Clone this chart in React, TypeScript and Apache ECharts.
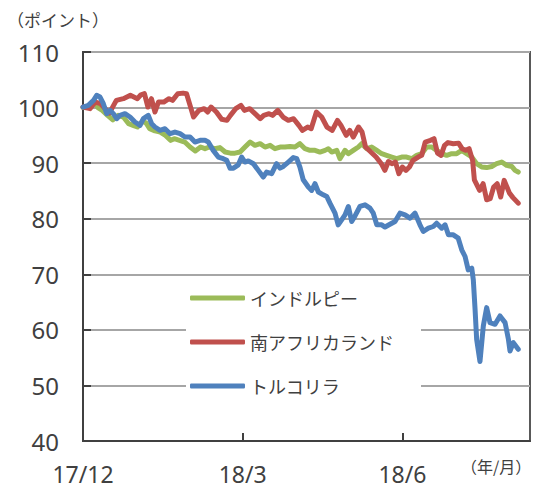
import React, { useEffect, useRef } from 'react';
import * as echarts from 'echarts';

// x = days since 2017-12-01
const xTickDays = [0, 91, 182];
const xTickLabels = ['17/12', '18/3', '18/6'];
const seriesNames = ['インドルピー', '南アフリカランド', 'トルコリラ'];
const seriesColors = ['#9BBB59', '#C0504D', '#4F81BD'];

const inr: [number, number][] = [
  [0, 100.0], [4, 100.2], [7, 101.0], [8.5, 100.0], [11, 99.5], [14, 98.6], [17, 97.8], [20, 98.6],
  [23, 98.3], [26, 97.1], [28.5, 96.8], [31, 96.5], [34, 97.6], [36, 97.2], [38, 96.2], [41, 95.8],
  [44, 95.6], [47, 95.0], [50, 94.1], [52, 94.4], [55, 94.1], [58, 93.8], [61, 92.9], [64, 92.2],
  [67, 92.9], [69.5, 92.6], [72, 92.9], [75, 92.6], [78, 92.8], [81, 92.0], [84, 91.8], [86.6, 91.8],
  [89.5, 92.0], [92.3, 92.9], [95.2, 93.8], [98, 93.2], [100.9, 93.5], [103.7, 92.9], [106.6, 93.2],
  [109.4, 92.6], [112.3, 92.9], [115.1, 92.9], [117.9, 93.0], [120.8, 92.9], [123.6, 93.5], [126.5, 92.6],
  [129.3, 92.3], [132.2, 92.3], [135, 92.0], [137.9, 92.3], [139.8, 92.6], [141.7, 92.0], [144.6, 92.3],
  [146.4, 90.8], [149.3, 92.3], [151.2, 91.7], [154, 92.3], [156.9, 92.9], [158.8, 93.5], [161.7, 92.6],
  [164.5, 92.9], [167.4, 92.3], [170.2, 91.7], [173, 91.4], [175.9, 91.1], [178.7, 90.8], [181.6, 91.1],
  [184.4, 91.1], [187.3, 90.8], [190.1, 91.4], [193, 91.7], [195.8, 92.9], [198.7, 92.9], [201.5, 92.3],
  [204.4, 91.7], [207.2, 91.4], [210.1, 91.7], [212.9, 91.7], [215.8, 92.3], [218.6, 91.7], [221.5, 91.1],
  [224.3, 89.9], [227.2, 89.3], [230, 89.2], [232.9, 89.4], [235.7, 89.9], [238.6, 90.2], [241.4, 89.6],
  [244.3, 89.4], [246.2, 88.7], [248, 88.4],
];

const zar: [number, number][] = [
  [0, 100.1], [4, 99.8], [7, 101.0], [10, 100.7], [15, 99.0], [19, 101.3], [23, 101.6], [27, 102.2],
  [31, 101.6], [33, 102.3], [35, 102.5], [37, 100.1], [39, 101.6], [41, 99.2], [43, 101.0], [46, 101.0],
  [49, 101.6], [51, 101.3], [54, 102.5], [57, 102.6], [59, 102.5], [61, 100.4], [63, 98.3], [66, 99.5],
  [69, 99.8], [71, 99.2], [73, 100.1], [76, 99.2], [79, 97.9], [82, 97.7], [84, 98.6], [87, 99.8],
  [90, 100.4], [92, 99.5], [95, 99.8], [98, 98.9], [101, 98.0], [103, 98.6], [106, 98.9], [108, 98.6],
  [111, 99.5], [114, 98.3], [117, 97.7], [120, 98.0], [123, 96.8], [125, 95.9], [128, 96.5], [130, 96.2],
  [133, 99.2], [136, 98.3], [139, 96.5], [142, 95.9], [145, 97.7], [147, 96.8], [150, 95.0], [152, 95.9],
  [154, 94.7], [157, 96.5], [159, 95.6], [161, 92.9], [164, 92.0], [167, 91.1], [170, 89.9], [172, 88.7],
  [174, 90.3], [176, 89.9], [178, 90.2], [180, 88.1], [182, 89.3], [184, 88.7], [186, 89.3], [188, 90.5],
  [191, 91.1], [193, 91.4], [195, 93.8], [198, 94.1], [200, 94.4], [202, 91.8], [204, 91.4], [206, 93.2],
  [208, 93.7], [211, 93.5], [214, 93.6], [216, 92.6], [218, 92.3], [220, 92.6], [222, 90.5], [223, 87.0],
  [226, 85.1], [228, 86.3], [230, 83.4], [232, 83.6], [234, 85.7], [236, 86.3], [238, 83.9], [240, 86.9],
  [243, 84.6], [245, 83.8], [248, 82.8],
];

const tryl: [number, number][] = [
  [0, 100.1], [3, 100.4], [6, 101.3], [7.8, 102.2], [9.7, 101.9], [11.6, 100.7], [13.5, 98.9], [15.4, 99.5],
  [17.3, 98.9], [19.2, 98.0], [21.1, 98.6], [23.9, 98.9], [26.8, 98.3], [29.6, 97.4], [32.5, 96.8],
  [34.4, 98.0], [37.2, 98.6], [39.1, 97.1], [41, 96.5], [43.9, 95.9], [46.7, 96.2], [49.6, 95.3],
  [52.4, 95.6], [55.3, 95.3], [58.1, 94.7], [61, 94.7], [63.8, 93.8], [66.7, 94.1], [69.5, 94.1],
  [71.4, 93.8], [74.2, 92.3], [77.1, 91.1], [79.9, 90.8], [81.9, 90.5], [83.8, 89.1], [85.7, 89.1],
  [88.5, 89.7], [90.4, 91.1], [92.3, 90.2], [94.2, 90.4], [97.1, 89.9], [99.9, 88.7], [102.7, 87.5],
  [104.6, 88.4], [107.5, 88.1], [110.3, 89.9], [112.3, 89.1], [114.1, 89.4], [117, 90.2], [119.8, 91.0],
  [121.8, 90.8], [123.6, 89.3], [125.5, 87.0], [128.4, 85.7], [130.3, 85.1], [132.2, 86.3], [134.1, 84.8],
  [136.9, 84.3], [138.9, 84.0], [140.7, 82.8], [143.6, 81.0], [145.4, 78.9], [147.4, 79.8], [149.3, 80.7],
  [151.2, 82.2], [153.1, 79.5], [155, 80.5], [157.8, 82.2], [160.7, 82.5], [163.5, 81.9], [165.4, 81.0],
  [167.4, 78.9], [170.2, 78.9], [172.1, 78.5], [174.9, 79.0], [177.8, 79.5], [180.6, 81.0], [183.5, 80.7],
  [186.3, 80.1], [189.2, 81.0], [192, 78.9], [193.9, 77.7], [196.8, 78.3], [199.6, 78.6], [201.5, 79.2],
  [204.4, 78.3], [206.3, 78.9], [208.2, 77.1], [211, 77.1], [213.8, 76.5], [215.8, 74.4], [217.7, 73.2],
  [219.5, 70.8], [221.5, 71.1], [222.4, 69.0], [223.4, 63.7], [224.3, 58.3], [226.2, 54.3], [228.1, 60.7],
  [230, 64.0], [231.9, 61.3], [234.8, 61.0], [237.6, 62.5], [240.5, 61.3], [242.4, 58.3], [243.3, 56.2],
  [245.2, 57.7], [248, 56.5],
];

const seriesData = [inr, zar, tryl];

const LABEL_FONT = "'Noto Sans', 'Noto Sans CJK JP', sans-serif";
const JP_FONT = "'Noto Sans CJK JP', sans-serif";

export default function App() {
  const ref = useRef<HTMLDivElement>(null);
  useEffect(() => {
    if (!ref.current) return;
    const chart = echarts.init(ref.current, undefined, { renderer: 'svg' });
    chart.setOption({
      animation: false,
      backgroundColor: '#ffffff',
      grid: {
        left: 83, top: 52, right: 13, bottom: 47,
        show: true, borderColor: '#595959', borderWidth: 2, backgroundColor: 'transparent',
      },
      xAxis: {
        type: 'value', min: 0, max: 254.7, interval: 91,
        axisLine: { show: true, lineStyle: { color: '#404040', width: 2 } },
        axisTick: { show: true, inside: true, length: 8, lineStyle: { color: '#404040', width: 2 } },
        splitLine: { show: false },
        axisLabel: {
          fontSize: 23, lineHeight: 23, color: '#404040', fontFamily: LABEL_FONT, margin: 21,
          showMaxLabel: false,
          formatter: (v: number) => {
            const i = xTickDays.indexOf(Math.round(v));
            return i >= 0 ? xTickLabels[i] : '';
          },
        },
      },
      yAxis: {
        type: 'value', min: 40, max: 110, interval: 10,
        axisLine: { show: true, lineStyle: { color: '#404040', width: 2 } },
        axisTick: { show: true, inside: true, length: 8, lineStyle: { color: '#404040', width: 2 } },
        splitLine: { show: true, lineStyle: { color: '#a6a6a6', width: 2 } },
        axisLabel: { fontSize: 24, color: '#404040', fontFamily: LABEL_FONT, margin: 24 },
      },
      legend: {
        orient: 'vertical', left: 186, top: 278,
        itemWidth: 55, itemHeight: 5, itemGap: 26,
        icon: 'roundRect',
        backgroundColor: '#ffffff',
        padding: [11, 27, 12, 4],
        data: seriesNames,
        textStyle: { fontSize: 18, color: '#404040', fontFamily: JP_FONT, lineHeight: 18 },
      },
      graphic: [
        { type: 'text', left: 7, top: 11, style: { text: '（ポイント）', fontSize: 17, fontFamily: JP_FONT, fill: '#404040' } },
        { type: 'text', left: 461, top: 458, style: { text: '（年/月）', fontSize: 16, fontFamily: JP_FONT, fill: '#404040' } },
      ],
      series: seriesNames.map((name, i) => ({
        name, type: 'line', data: seriesData[i], showSymbol: false, symbol: 'none',
        color: seriesColors[i],
        lineStyle: { color: seriesColors[i], width: 5, cap: 'round', join: 'round' },
        z: 2 + i,
      })),
    });
    return () => chart.dispose();
  }, []);
  return <div ref={ref} style={{ position: 'fixed', left: 0, top: 0, width: 543, height: 488 }} />;
}
